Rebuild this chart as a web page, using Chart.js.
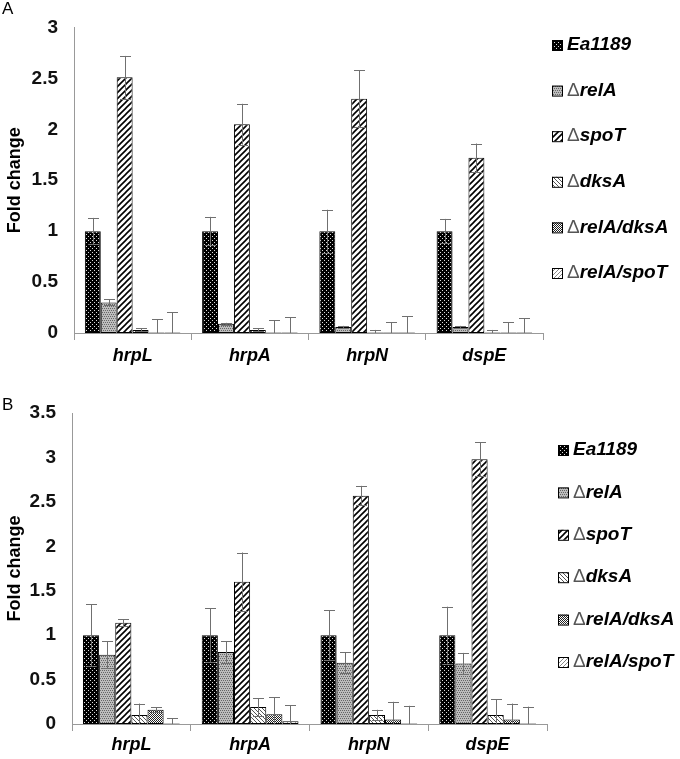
<!DOCTYPE html>
<html>
<head>
<meta charset="utf-8">
<script src="https://cdn.jsdelivr.net/npm/chart.js@4.4.1/dist/chart.umd.min.js"></script>
<style>
    body { margin: 0; background: #fff; }
    .painel { position: relative; width: 680px; }
    .letra { position: absolute; left: 2px; font: 17px "Liberation Sans", Arial, sans-serif; color: #000; }
</style>
</head>
<body>
<div class="painel" style="height:378px">
    <span class="letra" style="top:-1px">A</span>
    <canvas id="graficoA" width="680" height="378"></canvas>
</div>
<div class="painel" style="height:381px">
    <span class="letra" style="top:17px">B</span>
    <canvas id="graficoB" width="680" height="381"></canvas>
</div>
<script>
const genes = ['hrpL', 'hrpA', 'hrpN', 'dspE'];
const cepas = ['Ea1189', 'ΔrelA', 'ΔspoT', 'ΔdksA', 'ΔrelA/dksA', 'ΔrelA/spoT'];

// painel A
const ea1189A = [1, 1, 1, 1];
const relA_A = [0.30, 0.09, 0.06, 0.06];
const spoT_A = [2.51, 2.05, 2.30, 1.72];
const dksA_A = [0.03, 0.03, 0.005, 0.005];
const relAdksA_A = [0.005, 0.005, 0.005, 0.005];
const relAspoT_A = [0.005, 0.005, 0.005, 0.005];
const erroEa1189A = [0.13, 0.14, 0.21, 0.12];
const erroRelA_A = [0.03, 0.01, 0.01, 0.01];
const erroSpoT_A = [0.21, 0.20, 0.28, 0.14];
const erroDksA_A = [0.015, 0.015, 0.025, 0.025];
const erroRelAdksA_A = [0.13, 0.12, 0.10, 0.10];
const erroRelAspoT_A = [0.20, 0.15, 0.16, 0.14];

// painel B
const ea1189B = [1, 1, 1, 1];
const relA_B = [0.78, 0.81, 0.69, 0.68];
const spoT_B = [1.14, 1.60, 2.57, 2.98];
const dksA_B = [0.10, 0.19, 0.10, 0.10];
const relAdksA_B = [0.16, 0.11, 0.05, 0.05];
const relAspoT_B = [0.005, 0.03, 0.005, 0.005];
const erroEa1189B = [0.35, 0.30, 0.28, 0.32];
const erroRelA_B = [0.15, 0.12, 0.12, 0.12];
const erroSpoT_B = [0.04, 0.33, 0.11, 0.19];
const erroDksA_B = [0.13, 0.10, 0.06, 0.18];
const erroRelAdksA_B = [0.03, 0.19, 0.20, 0.18];
const erroRelAspoT_B = [0.06, 0.18, 0.20, 0.19];

const FONTE = '"Liberation Sans", Arial, sans-serif';

// padroes de preenchimento das barras
function criarPadrao(tipo) {
    const c = document.createElement('canvas');
    const ctx = c.getContext('2d');
    if (tipo === 'escuro') {
        c.width = 4; c.height = 4;
        ctx.fillStyle = '#000';
        ctx.fillRect(0, 0, 4, 4);
        ctx.fillStyle = '#ddd';
        [[0, 0], [2, 2]].forEach(p => ctx.fillRect(p[0], p[1], 1, 1));
    } else if (tipo === 'cinza') {
        c.width = 4; c.height = 4;
        ctx.fillStyle = '#bdbdbd';
        ctx.fillRect(0, 0, 4, 4);
        ctx.fillStyle = '#666';
        [[0, 0], [2, 0], [1, 2], [3, 2]].forEach(p => ctx.fillRect(p[0], p[1], 1, 1));
    } else if (tipo === 'xadrez') {
        c.width = 4; c.height = 4;
        ctx.fillStyle = '#fff';
        ctx.fillRect(0, 0, 4, 4);
        ctx.fillStyle = '#222';
        for (let i = 0; i < 4; i++) {
            for (let j = 0; j < 4; j++) {
                if ((i + j) % 2 === 0) ctx.fillRect(i, j, 1, 1);
            }
        }
    } else {
        // listras diagonais
        const n = tipo === 'listraLarga' ? 6 : 4;
        c.width = n; c.height = n;
        ctx.fillStyle = '#fff';
        ctx.fillRect(0, 0, n, n);
        ctx.strokeStyle = tipo === 'listraLarga' ? '#000' : (tipo === 'contraListra' ? '#555' : '#888');
        ctx.lineWidth = tipo === 'listraLarga' ? 1.6 : 1;
        ctx.beginPath();
        if (tipo === 'contraListra') {
            ctx.moveTo(-1, -1); ctx.lineTo(n + 1, n + 1);
            ctx.moveTo(-1, n - 1); ctx.lineTo(1, n + 1);
            ctx.moveTo(n - 1, -1); ctx.lineTo(n + 1, 1);
        } else {
            ctx.moveTo(-1, n + 1); ctx.lineTo(n + 1, -1);
            ctx.moveTo(-1, 1); ctx.lineTo(1, -1);
            ctx.moveTo(n - 1, n + 1); ctx.lineTo(n + 1, n - 1);
        }
        ctx.stroke();
    }
    return ctx.createPattern(c, 'repeat');
}

const padroes = ['escuro', 'cinza', 'listraLarga', 'contraListra', 'xadrez', 'listraFina'].map(criarPadrao);

// barras de erro (desenhadas por cima das barras)
const pluginErros = {
    id: 'barrasErro',
    afterDatasetsDraw(chart) {
        const ctx = chart.ctx;
        const y = chart.scales.y;
        ctx.save();
        ctx.strokeStyle = '#707070';
        ctx.lineWidth = 1;
        chart.data.datasets.forEach((ds, i) => {
            const meta = chart.getDatasetMeta(i);
            meta.data.forEach((barra, j) => {
                const v = ds.data[j], e = ds.erros[j];
                const x = Math.round(barra.x) + 0.5;
                const yTopo = y.getPixelForValue(v + e);
                const yBase = y.getPixelForValue(Math.max(0, v - e));
                ctx.beginPath();
                ctx.moveTo(x, yBase);
                ctx.lineTo(x, yTopo);
                ctx.moveTo(x - 5.5, Math.round(yTopo) + 0.5);
                ctx.lineTo(x + 5.5, Math.round(yTopo) + 0.5);
                if (v - e > 0) {
                    ctx.moveTo(x - 5.5, Math.round(yBase) + 0.5);
                    ctx.lineTo(x + 5.5, Math.round(yBase) + 0.5);
                }
                ctx.stroke();
            });
        });
        ctx.restore();
    }
};

// legenda propria: o delta em fonte fina, o nome em italico negrito
const pluginLegenda = {
    id: 'legendaCepas',
    afterDraw(chart, args, opts) {
        const ctx = chart.ctx;
        ctx.save();
        ctx.textBaseline = 'middle';
        chart.data.datasets.forEach((ds, i) => {
            const yc = opts.y0 + i * opts.passo;
            ctx.fillStyle = ds.backgroundColor;
            ctx.fillRect(opts.xCaixa, yc - 5, 10, 10);
            ctx.strokeStyle = '#000';
            ctx.lineWidth = 1;
            ctx.strokeRect(opts.xCaixa + 0.5, yc - 4.5, 10, 10);
            let x = opts.xTexto;
            let nome = ds.label;
            if (nome.startsWith('Δ')) {
                ctx.font = '19px ' + FONTE;
                ctx.fillStyle = '#555';
                ctx.fillText('Δ', x, yc);
                x += ctx.measureText('Δ').width;
                nome = nome.slice(1);
            }
            ctx.font = 'italic bold 19px ' + FONTE;
            ctx.fillStyle = '#000';
            ctx.fillText(nome, x, yc);
        });
        ctx.restore();
    }
};

function montarDatasets(valores, erros) {
    return cepas.map((nome, i) => ({
        label: nome,
        data: valores[i],
        erros: erros[i],
        backgroundColor: padroes[i],
        borderColor: '#000',
        borderWidth: 1,
        borderSkipped: false,
        categoryPercentage: 0.815,
        barPercentage: 1.0
    }));
}

function desenharGrafico(id, valores, erros, cfg) {
    const ctx = document.getElementById(id).getContext('2d');
    return new Chart(ctx, {
        type: 'bar',
        data: { labels: genes, datasets: montarDatasets(valores, erros) },
        options: {
            responsive: false,
            animation: false,
            devicePixelRatio: 1,
            layout: { padding: { top: cfg.topo, right: cfg.direita, left: 0, bottom: 0 } },
            plugins: {
                legend: { display: false },
                tooltip: { enabled: false },
                legendaCepas: cfg.legenda
            },
            scales: {
                x: {
                    grid: { offset: true, drawOnChartArea: false, drawTicks: true, tickLength: 7, color: '#999' },
                    border: { color: '#999' },
                    ticks: { color: '#000', padding: cfg.padX, font: { family: FONTE, size: 18, style: 'italic', weight: 'bold' } },
                    afterFit: s => { s.height = cfg.alturaX; }
                },
                y: {
                    min: 0,
                    max: cfg.maxY,
                    grid: { display: false, drawTicks: false },
                    border: { display: true, color: '#999' },
                    ticks: {
                        stepSize: 0.5, color: '#111', padding: 16,
                        font: { family: FONTE, size: 19, weight: 'bold' },
                        callback: v => String(v)
                    },
                    title: { display: true, text: 'Fold change', color: '#000', padding: { top: 4, bottom: 0 }, font: { family: FONTE, size: 18, weight: 'bold' } },
                    afterFit: s => { s.width = cfg.larguraY; }
                }
            }
        },
        plugins: [pluginErros, pluginLegenda]
    });
}

desenharGrafico('graficoA',
    [ea1189A, relA_A, spoT_A, dksA_A, relAdksA_A, relAspoT_A],
    [erroEa1189A, erroRelA_A, erroSpoT_A, erroDksA_A, erroRelAdksA_A, erroRelAspoT_A],
    { topo: 10, direita: 137, alturaX: 45, larguraY: 74, maxY: 3, padX: 5,
      legenda: { xCaixa: 552, xTexto: 567, y0: 45, passo: 45.6 } });

desenharGrafico('graficoB',
    [ea1189B, relA_B, spoT_B, dksA_B, relAdksA_B, relAspoT_B],
    [erroEa1189B, erroRelA_B, erroSpoT_B, erroDksA_B, erroRelAdksA_B, erroRelAspoT_B],
    { topo: 35, direita: 133, alturaX: 35, larguraY: 72, maxY: 3.5, padX: 3,
      legenda: { xCaixa: 558, xTexto: 573, y0: 72, passo: 42.4 } });
</script>
</body>
</html>
